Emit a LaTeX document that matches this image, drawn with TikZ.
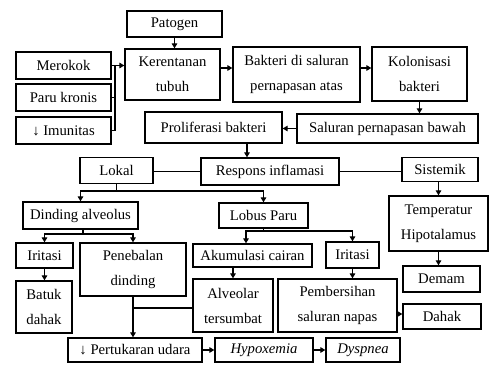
\documentclass[tikz,border=0pt]{standalone}
\usepackage{fontspec}
\setmainfont{Liberation Serif}
\usetikzlibrary{arrows.meta}
\begin{document}
\begin{tikzpicture}[x=1pt,y=-1pt,
  box/.style={draw, line width=1.3pt, inner sep=0pt, align=center,
    font=\fontsize{14.7}{25}\selectfont},
  conn/.style={line width=1.3pt},
  arr/.style={conn, -{Triangle[length=5pt,width=5.5pt]}}]
\useasboundingbox (0,0) rectangle (489,364);
% boxes
\node[box, minimum width=95pt, minimum height=26pt] (patogen) at (174.5,24) {Patogen};
\node[box, minimum width=95pt, minimum height=51pt] (keren) at (172.5,74.5) {Kerentanan\\tubuh};
\node[box, minimum width=95pt, minimum height=27pt] (merokok) at (63.5,65.5) {Merokok};
\node[box, minimum width=95pt, minimum height=27pt] (parukr) at (63.5,97.5) {Paru kronis};
\node[box, minimum width=95pt, minimum height=27pt] (imun) at (63.5,130.5) {↓ Imunitas};
\node[box, minimum width=127pt, minimum height=55pt] (bakteri) at (296.5,74.5) {Bakteri di saluran\\pernapasan atas};
\node[box, minimum width=95pt, minimum height=54pt] (kolon) at (419.5,74) {Kolonisasi\\bakteri};
\node[box, minimum width=181pt, minimum height=29pt] (salbawah) at (387.5,128.5) {Saluran pernapasan bawah};
\node[box, minimum width=137pt, minimum height=31pt] (prolif) at (213.5,127.5) {Proliferasi bakteri};
\node[box, minimum width=138pt, minimum height=27pt] (respons) at (270,171.5) {Respons inflamasi};
\node[box, minimum width=73pt, minimum height=26pt] (lokal) at (116.5,170.5) {Lokal};
\node[box, minimum width=76pt, minimum height=24pt] (sistemik) at (440,169.5) {Sistemik};
\node[box, minimum width=99pt, minimum height=55pt] (temp) at (438.5,223.5) {Temperatur\\Hipotalamus};
\node[box, minimum width=77pt, minimum height=26pt] (demam) at (441.5,279) {Demam};
\node[box, minimum width=78pt, minimum height=25pt] (dahak) at (442,316.5) {Dahak};
\node[box, minimum width=119pt, minimum height=53pt] (pember) at (337.5,305.5) {Pembersihan\\saluran napas};
\node[box, minimum width=53pt, minimum height=26pt] (iritasiR) at (352.5,255) {Iritasi};
\node[box, minimum width=119pt, minimum height=23pt] (akum) at (252.5,255.5) {Akumulasi cairan};
\node[box, minimum width=80pt, minimum height=53pt] (alveolar) at (233,305.5) {Alveolar\\tersumbat};
\node[box, minimum width=89pt, minimum height=25pt] (lobus) at (263.5,215.5) {Lobus Paru};
\node[box, minimum width=115pt, minimum height=27pt] (dinding) at (80.5,215.5) {Dinding alveolus};
\node[box, minimum width=57pt, minimum height=25pt] (iritasiL) at (44.5,255.5) {Iritasi};
\node[box, minimum width=56pt, minimum height=52pt] (batuk) at (44,307) {Batuk\\dahak};
\node[box, minimum width=106pt, minimum height=53pt] (peneb) at (133,269.5) {Penebalan\\dinding};
\node[box, minimum width=134pt, minimum height=24pt] (pertuk) at (135,350) {↓ Pertukaran udara};
\node[box, minimum width=98pt, minimum height=24pt] (hypox) at (264,350) {\itshape Hypoxemia};
\node[box, minimum width=74pt, minimum height=24pt] (dysp) at (363,350) {\itshape Dyspnea};
% junction coordinates
\coordinate (brk) at (115,65.5);
\coordinate (lk) at (116.5,191);
\coordinate (dj) at (83,234);
\coordinate (lb) at (263.5,231);
% connectors
\draw[arr] (patogen.south) -- (patogen.south |- keren.north);
\draw[conn] (parukr.east) -- (parukr.east -| brk);
\draw[conn] (imun.east) -| (brk);
\draw[arr] (merokok.east) -- (merokok.east -| keren.west);
\draw[arr] ([yshift=6.5pt]keren.east) -- ([yshift=6.5pt]keren.east -| bakteri.west);
\draw[arr] ([yshift=6.5pt]bakteri.east) -- ([yshift=6.5pt]bakteri.east -| kolon.west);
\draw[arr] (kolon.south) -- (kolon.south |- salbawah.north);
\draw[arr] (salbawah.west) -- (salbawah.west -| prolif.east);
\draw[arr] ([xshift=33.5pt]prolif.south) -- ([xshift=33.5pt]prolif.south |- respons.north);
\draw[conn] (respons.west) -- (respons.west -| lokal.east);
\draw[conn] (respons.east) -- (respons.east -| sistemik.west);
\draw[conn] (lokal.south) -- (lk);
\draw[arr] (lk) -| (dinding.north);
\draw[arr] (lk) -| (lobus.north);
\draw[arr] (temp.north |- sistemik.south) -- (temp.north);
\draw[arr] (temp.south) -- (temp.south |- demam.north);
\draw[conn] (dj |- dinding.south) -- (dj);
\draw[arr] (dj) -| (iritasiL.north);
\draw[arr] (dj) -| (peneb.north);
\draw[arr] (iritasiL.south) -- (iritasiL.south |- batuk.north);
\draw[arr] (peneb.south) -- (peneb.south |- pertuk.north);
\draw[conn] ([yshift=-2.5pt]alveolar.west) -- ([yshift=-2.5pt]alveolar.west -| peneb.south);
\draw[conn] (lobus.south) -- (lb);
\draw[arr] (lb) -| ([xshift=-6.5pt]akum.north);
\draw[arr] (lb) -| (iritasiR.north);
\draw[arr] (alveolar.north |- akum.south) -- (alveolar.north);
\draw[arr] (iritasiR.south) -- (iritasiR.south |- pember.north);
\draw[arr] ([yshift=-8.5pt]pember.east) -- ([yshift=-8.5pt]pember.east -| dahak.west);
\draw[arr] (pertuk.east) -- (pertuk.east -| hypox.west);
\draw[arr] (hypox.east) -- (hypox.east -| dysp.west);
\end{tikzpicture}
\end{document}
